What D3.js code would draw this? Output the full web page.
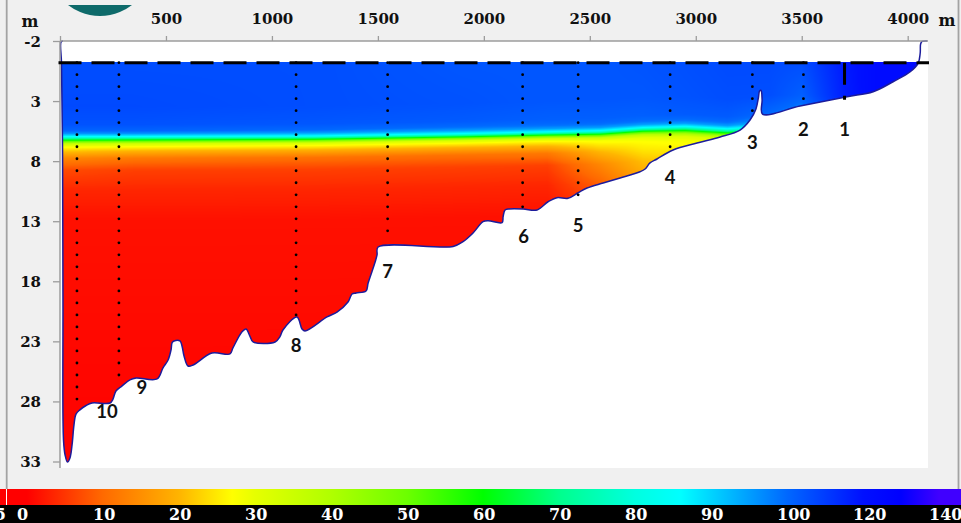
<!DOCTYPE html>
<html>
<head>
<meta charset="utf-8">
<script src="https://cdn.jsdelivr.net/npm/d3@7"></script>
<style>
  html, body { margin: 0; padding: 0; background: #f0f0f0; }
  svg { display: block; }
</style>
</head>
<body>
<svg id="chart" width="961" height="523"></svg>
<script>
// ---------------- data ----------------
// basin outline along the section: distance (m) and depth (m)
const outlineDist  = [14, 5, 7, 12, 14, 16.5, 24, 35, 47, 57, 66, 75.5, 94, 123, 151, 236, 250, 264, 293, 330, 359, 458, 486, 510, 524, 529, 538, 566, 576, 585, 604, 628, 717, 802, 816, 859, 878, 897, 911, 1015, 1038, 1052, 1118, 1142, 1156, 1260, 1307, 1359, 1378, 1397, 1444, 1454, 1487, 1496, 1501, 1855, 1902, 1949, 1996, 2020, 2086, 2091, 2100, 2119, 2185, 2251, 2303, 2345, 2397, 2445, 2487, 2563, 2643, 2737, 2761, 2784, 2817, 2893, 3006, 3115, 3209, 3256, 3284, 3296, 3301, 3308, 3313, 3315, 3492, 3714, 3837, 3931, 4012, 4049, 4059, 4061, 4068, 4092];
const outlineDepth = [-2.0, -1.92, -0.17, 7.07, 19.56, 31.2, 32.46, 33.04, 32.7, 31.6, 29.96, 29.05, 28.7, 28.34, 28.13, 28.13, 27.8, 27.13, 26.7, 26.2, 26.05, 26.13, 25.2, 24.55, 23.7, 23.1, 22.97, 22.97, 23.4, 24.2, 25.05, 24.97, 23.97, 24.05, 23.55, 22.2, 21.97, 22.6, 23.05, 23.05, 22.6, 22.05, 20.97, 21.97, 22.14, 20.97, 20.56, 19.72, 19.06, 18.97, 18.81, 18.14, 16.4, 15.81, 15.15, 15.1, 14.7, 13.98, 13.04, 12.96, 13.12, 12.62, 12.07, 11.98, 11.98, 12.07, 11.38, 11.04, 11.09, 10.63, 10.24, 9.82, 9.4, 8.88, 8.65, 8.15, 7.82, 7.07, 6.49, 5.99, 5.41, 4.58, 3.66, 2.66, 2.16, 2.12, 2.91, 4.08, 3.41, 2.64, 2.22, 1.39, 0.56, -0.14, -1.0, -1.75, -1.96, -2.0];
const waterLevel = -0.2;

// sampling stations
const stationNames = ['1', '2', '3', '4', '5', '6', '7', '8', '9', '10'];
const stationDist  = [3702, 3508, 3267, 2879, 2445, 2183, 1546, 1114, 278, 80];
const stationDepth = [3.1, 3, 4, 7, 11, 12, 14, 21, 26, 28];

// measured field: columns along the section, rows as depth offset from the cline
const fieldDist   = [0, 350, 1200, 1900, 2300, 2550, 2750, 2950, 3150, 3350, 3500, 3700, 3850, 4100];
const clineDepth  = [5.95, 5.95, 5.9, 5.7, 5.55, 5.45, 5.2, 5.1, 5.3, 5.0, 5.0, 5.0, 5.0, 5.0];
const fieldOffset = [-6.5, -2.5, -1.0, -0.5, -0.25, 0, 0.2, 0.4, 0.6, 0.85, 1.2, 1.8, 2.8, 4.5, 7, 28];
const fieldValues = [
  [106, 107, 105, 101, 96, 86, 70, 52, 36, 28, 22, 14, 7, 3.5, 1.5, 0],
  [106, 107, 105, 101, 96, 86, 68, 50, 34, 27, 20, 12, 6, 3.5, 1.5, 0],
  [106, 106, 104, 100, 95, 86, 68, 48, 32, 26, 19, 11, 6, 3.5, 1.5, 0],
  [104, 105, 103, 99, 95, 86, 68, 48, 32, 26, 19, 11, 6, 3.5, 1.5, 0],
  [104, 104, 102, 99, 95, 86, 68, 48, 32, 26, 20, 12, 6, 3.5, 1.5, 0],
  [104, 104, 102, 99, 95, 86, 70, 52, 36, 28, 25, 20, 14, 9, 4, 1],
  [105, 104, 102, 99, 95, 86, 70, 52, 38, 30, 27, 25, 21, 17, 12, 6],
  [106, 105, 103, 99, 95, 86, 72, 56, 42, 32, 28, 26, 23, 19, 14, 8],
  [107, 106, 103, 99, 95, 86, 72, 56, 42, 32, 28, 26, 24, 20, 14, 8],
  [107, 106, 100, 97, 94, 88, 80, 70, 60, 50, 40, 30, 25, 20, 14, 8],
  [108, 102, 96, 93, 92, 90, 85, 80, 70, 60, 50, 40, 30, 20, 14, 8],
  [118, 117, 114, 112, 110, 105, 100, 95, 90, 80, 70, 60, 50, 40, 30, 20],
  [123, 123, 122, 120, 118, 115, 110, 105, 100, 95, 90, 80, 70, 60, 50, 40],
  [124, 124, 123, 122, 120, 118, 115, 110, 105, 100, 95, 90, 80, 70, 60, 50]
];

// axes and legend
const xTicks = [0, 500, 1000, 1500, 2000, 2500, 3000, 3500, 4000];
const yTicks = [-2, 3, 8, 13, 18, 23, 28, 33];
const legendTicks = [0, 10, 20, 30, 40, 50, 60, 70, 80, 90, 100, 120, 140];
const paletteValues = [0, 10, 20, 27, 30, 40, 50, 60, 70, 80, 86, 90, 100, 120, 130, 140];
const paletteColors = ['#ff0000', '#ff6a00', '#ffb400', '#ffff00', '#e6ff00', '#b0ff00', '#6cff00', '#00ff00',
                       '#00ff8c', '#00ffe0', '#00ffff', '#00d4ff', '#0068ff', '#0010ff', '#0000ff', '#4000ff'];

// ---------------- layout ----------------
const W = 961, H = 523;
const plot = { left: 60, right: 928, top: 41, bottom: 468 };
const labelShift = [[0, 29], [0, 31], [0, 32], [0, 31], [0, 31], [1, 30], [0, 41], [0, 30], [23, 12], [30, 12]];
const serif = "'DejaVu Serif', serif";

const svg = d3.select('#chart');
const x = d3.scaleLinear().domain([0, 4000]).range([60, 907.7]);
const y = d3.scaleLinear().domain([-2, 33]).range([41, 461.5]);
const color = d3.scaleLinear().domain(paletteValues).range(paletteColors).clamp(true);

svg.append('rect').attr('width', W).attr('height', H).attr('fill', '#f0f0f0');

// logo disc peeking in at the top
const defs = svg.append('defs');
defs.append('clipPath').attr('id', 'logoClip')
  .append('rect').attr('x', 0).attr('y', 5).attr('width', 300).attr('height', 40);
svg.append('circle').attr('cx', 100).attr('cy', -36).attr('r', 52)
  .attr('fill', '#0e6a6a').attr('clip-path', 'url(#logoClip)');

// panel border lines
svg.append('line').attr('x1', 6.7).attr('x2', 6.7).attr('y1', 0).attr('y2', 489)
  .attr('stroke', '#a3a3a3').attr('stroke-width', 1.8);
svg.append('line').attr('x1', 958.5).attr('x2', 958.5).attr('y1', 0).attr('y2', 489)
  .attr('stroke', '#a3a3a3').attr('stroke-width', 1.8);

// plot area
svg.append('rect')
  .attr('x', plot.left).attr('y', plot.top)
  .attr('width', plot.right - plot.left).attr('height', plot.bottom - plot.top)
  .attr('fill', '#ffffff');

// ---------------- colour field ----------------
const outline = outlineDist.map((d, i) => [d, outlineDepth[i]]);
const line = d3.line().x(d => x(d[0])).y(d => y(d[1])).curve(d3.curveCatmullRom.alpha(0.5));

defs.append('clipPath').attr('id', 'basinClip')
  .append('path').attr('d', line(outline) + 'Z');

const colIndex = d3.scaleLinear().domain(fieldDist).range(d3.range(fieldDist.length)).clamp(true);
const rowIndex = d3.scaleLinear().domain(fieldOffset).range(d3.range(fieldOffset.length)).clamp(true);
const clineAt  = d3.scaleLinear().domain(fieldDist).range(clineDepth).clamp(true);
const nC = fieldDist.length, nR = fieldOffset.length;

function fieldValue(dist, depth) {
  const ci = colIndex(dist), c0 = Math.floor(ci), c1 = Math.min(c0 + 1, nC - 1), ct = ci - c0;
  const ri = rowIndex(depth - clineAt(dist)), r0 = Math.floor(ri), r1 = Math.min(r0 + 1, nR - 1), rt = ri - r0;
  const a = fieldValues[c0][r0] * (1 - rt) + fieldValues[c0][r1] * rt;
  const b = fieldValues[c1][r0] * (1 - rt) + fieldValues[c1][r1] * rt;
  return a * (1 - ct) + b * ct;
}

// colour lookup table, 0.1 steps
const lut = d3.range(0, 1401).map(i => d3.rgb(color(i / 10)));

const imgTop = Math.floor(y(waterLevel));
const cw = plot.right - plot.left, ch = plot.bottom - imgTop;
const canvas = document.createElement('canvas');
canvas.width = cw; canvas.height = ch;
const ctx = canvas.getContext('2d');
const img = ctx.createImageData(cw, ch);
for (let px = 0; px < cw; px++) {
  const dist = x.invert(plot.left + px + 0.5);
  for (let py = 0; py < ch; py++) {
    const depth = y.invert(imgTop + py + 0.5);
    const v = Math.max(0, Math.min(140, fieldValue(dist, depth)));
    const c = lut[Math.round(v * 10)];
    const k = (py * cw + px) * 4;
    img.data[k] = c.r; img.data[k + 1] = c.g; img.data[k + 2] = c.b; img.data[k + 3] = 255;
  }
}
ctx.putImageData(img, 0, 0);
svg.append('image')
  .attr('x', plot.left).attr('y', imgTop).attr('width', cw).attr('height', ch)
  .attr('preserveAspectRatio', 'none')
  .attr('href', canvas.toDataURL())
  .attr('clip-path', 'url(#basinClip)');

// basin outline
svg.append('path').attr('d', line(outline))
  .attr('fill', 'none').attr('stroke', '#1c1c9c').attr('stroke-width', 1.5);

// ---------------- axes ----------------
const axisColor = '#9c9c9c';
const gx = svg.append('g').attr('transform', `translate(0,${plot.top})`)
  .call(d3.axisTop(x).tickValues(xTicks).tickSize(5).tickPadding(12)
    .tickFormat(d => d === 0 ? '' : String(d)));
const gy = svg.append('g').attr('transform', `translate(${plot.left},0)`)
  .call(d3.axisLeft(y).tickValues(yTicks).tickSize(7).tickPadding(12)
    .tickFormat(d => String(d)));
[gx, gy].forEach(g => {
  g.select('.domain').remove();
  g.selectAll('.tick line').attr('stroke', axisColor).attr('stroke-width', 1.3);
  g.selectAll('.tick text').attr('fill', '#111').attr('font-family', serif)
    .attr('font-weight', 'bold').attr('font-size', 15);
});
gy.selectAll('.tick text').attr('dy', '0.36em');
svg.append('line').attr('x1', plot.left).attr('x2', plot.right).attr('y1', plot.top).attr('y2', plot.top)
  .attr('stroke', axisColor).attr('stroke-width', 1.5);
svg.append('line').attr('x1', plot.left).attr('x2', plot.left).attr('y1', plot.top).attr('y2', plot.bottom)
  .attr('stroke', axisColor).attr('stroke-width', 1.5);

svg.append('text').attr('x', 30).attr('y', 27).attr('text-anchor', 'middle')
  .attr('font-family', serif).attr('font-weight', 'bold').attr('font-size', 16).attr('fill', '#111').text('m');
svg.append('text').attr('x', 947).attr('y', 26).attr('text-anchor', 'middle')
  .attr('font-family', serif).attr('font-weight', 'bold').attr('font-size', 16).attr('fill', '#111').text('m');

// ---------------- stations ----------------
stationNames.forEach((name, i) => {
  const sx = x(stationDist[i]);
  if (i === 0) {
    svg.append('line').attr('x1', sx).attr('x2', sx)
      .attr('y1', y(waterLevel)).attr('y2', y(waterLevel + stationDepth[i]))
      .attr('stroke', '#000').attr('stroke-width', 3).attr('stroke-dasharray', '22,11');
  } else {
    svg.append('g').selectAll('circle')
      .data(d3.range(0, stationDepth[i] + 1))
      .join('circle')
      .attr('cx', sx).attr('cy', k => y(waterLevel + k)).attr('r', 1.4).attr('fill', '#000');
  }
  const [dx, dy] = labelShift[i];
  svg.append('text')
    .attr('x', sx + dx).attr('y', y(waterLevel + stationDepth[i]) + dy)
    .attr('dy', '0.36em').attr('text-anchor', 'middle')
    .attr('font-family', 'Lato, sans-serif').attr('font-weight', 'bold').attr('font-size', 18.5)
    .attr('fill', '#111').text(name);
});

// water surface
svg.append('line').attr('x1', 58.5).attr('x2', 929).attr('y1', y(waterLevel)).attr('y2', y(waterLevel))
  .attr('stroke', '#000').attr('stroke-width', 3).attr('stroke-dasharray', '23,10');

// ---------------- colour legend ----------------
const barX = d3.scaleLinear().domain(legendTicks).range(legendTicks.map((d, i) => 27 + 76 * i));
const grad = defs.append('linearGradient').attr('id', 'legendGrad')
  .attr('gradientUnits', 'userSpaceOnUse').attr('x1', 0).attr('x2', W).attr('y1', 0).attr('y2', 0);
paletteValues.forEach((v, i) => {
  grad.append('stop').attr('offset', barX(v) / W).attr('stop-color', paletteColors[i]);
});
svg.append('rect').attr('x', 0).attr('y', 489).attr('width', W).attr('height', 16).attr('fill', 'url(#legendGrad)');
svg.append('line').attr('x1', 6.5).attr('x2', 6.5).attr('y1', 489).attr('y2', 505)
  .attr('stroke', '#fff').attr('stroke-width', 1);
svg.append('rect').attr('x', 0).attr('y', 505).attr('width', W).attr('height', H - 505).attr('fill', '#000');
svg.append('g').selectAll('text').data(legendTicks).join('text')
  .attr('x', d => barX(d) - 10).attr('y', 520)
  .attr('font-family', serif).attr('font-weight', 'bold').attr('font-size', 16).attr('fill', '#fff')
  .text(d => d);
svg.append('text').attr('x', 6).attr('y', 520).attr('text-anchor', 'end')
  .attr('font-family', serif).attr('font-weight', 'bold').attr('font-size', 16).attr('fill', '#fff')
  .text('-5');
</script>
</body>
</html>
